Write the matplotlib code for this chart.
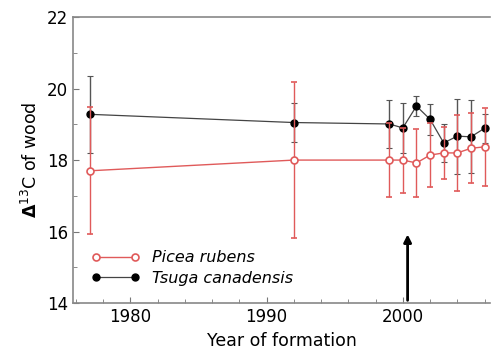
import matplotlib
matplotlib.use("Agg")
import matplotlib.pyplot as plt
from matplotlib.ticker import MultipleLocator
from matplotlib.lines import Line2D

years_picea = [1977, 1992, 1999, 2000, 2001, 2002, 2003, 2004, 2005, 2006]
picea = [17.70, 18.00, 18.00, 18.00, 17.92, 18.14, 18.20, 18.20, 18.33, 18.37]
picea_err = [1.78, 2.17, 1.03, 0.91, 0.96, 0.90, 0.73, 1.06, 0.98, 1.10]

years_tsuga = [1977, 1992, 1999, 2000, 2001, 2002, 2003, 2004, 2005, 2006]
tsuga = [19.28, 19.05, 19.01, 18.90, 19.51, 19.14, 18.48, 18.67, 18.65, 18.89]
tsuga_err = [1.07, 0.54, 0.68, 0.70, 0.29, 0.43, 0.54, 1.05, 1.02, 0.40]

arrow_x = 2000.35
arrow_y = (14.0, 16.0)

red = "#e05a5a"
fig = plt.figure(figsize=(4.91, 3.48), dpi=100)
ax = fig.add_axes([0.149, 0.129, 0.849, 0.822])

ax.errorbar(years_tsuga, tsuga, yerr=tsuga_err, color="#444444", lw=0.9,
            marker="o", ms=5, mfc="black", mec="black", ecolor="#555555",
            elinewidth=1.0, capsize=2, capthick=0.8, zorder=2)
ax.errorbar(years_picea, picea, yerr=picea_err, color=red, lw=1.0,
            marker="o", ms=5, mfc="white", mec=red, mew=1.2, ecolor=red,
            elinewidth=1.0, capsize=2, capthick=0.8, zorder=3)

ax.annotate("", xy=(arrow_x, arrow_y[1]), xytext=(arrow_x, arrow_y[0]),
            arrowprops=dict(arrowstyle="-|>", color="black", lw=2.0, mutation_scale=11))

ax.set_xlim(1975.8, 2006.4)
ax.set_ylim(14, 22)
ax.set_xticks([1980, 1990, 2000])
ax.xaxis.set_minor_locator(MultipleLocator(2))
ax.set_yticks([14, 16, 18, 20, 22])
ax.yaxis.set_minor_locator(MultipleLocator(1))
ax.tick_params(which="both", direction="in", colors="#777777", labelcolor="black", labelsize=12)
ax.tick_params(which="major", length=4)
ax.tick_params(which="minor", length=3)
for s in ["left", "bottom", "top"]:
    ax.spines[s].set_color("#888888")
    ax.spines[s].set_linewidth(1.2)
ax.spines["right"].set_visible(False)

ax.set_xlabel("Year of formation", fontsize=12.5)
ax.set_ylabel(r"$\mathbf{\Delta}^{13}$C of wood", fontsize=12.5)

h_picea = Line2D([], [], color=red, lw=1.0, marker="o", ms=5, mfc="white", mec=red, mew=1.2)
h_tsuga = Line2D([], [], color="#444444", lw=0.9, marker="o", ms=5, mfc="black", mec="black")
ax.legend([h_picea, h_tsuga], ["Picea rubens", "Tsuga canadensis"], loc="lower left",
          bbox_to_anchor=(0.01, 0.01), frameon=False, numpoints=2,
          prop={"style": "italic", "size": 11.5}, handlelength=3, labelspacing=0.35)

fig.savefig("out.png", dpi=100)
